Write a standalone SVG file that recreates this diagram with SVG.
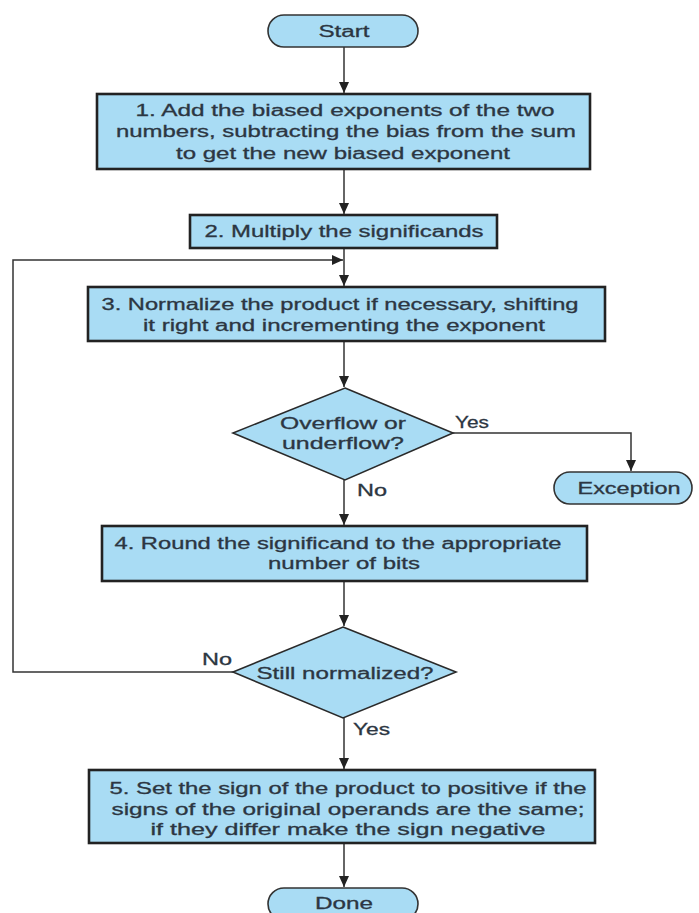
<svg xmlns="http://www.w3.org/2000/svg" width="699" height="913" viewBox="0 0 699 913">
<style>
.bg{fill:#ffffff}
.box{fill:#a9dcf4;stroke:#222;stroke-width:2.6}
.dec{fill:#a9dcf4;stroke:#2a2a2a;stroke-width:1.6}
.term{fill:#a9dcf4;stroke:#333;stroke-width:1.6}
.t{font-family:"Liberation Sans",Arial,sans-serif;font-size:16px;fill:#2c3642;stroke:#2c3642;stroke-width:0.3;text-anchor:middle}
.lbl{font-family:"Liberation Sans",Arial,sans-serif;font-size:16px;fill:#2c3642;stroke:#2c3642;stroke-width:0.3;text-anchor:start}
.c{fill:none;stroke:#333;stroke-width:1.5}
</style>
<defs>
<marker id="ah" markerUnits="userSpaceOnUse" markerWidth="12" markerHeight="10" refX="11" refY="5" orient="auto">
<path d="M0,0 L11,5 L0,10 Z" fill="#222"/>
</marker>
</defs>
<rect class="bg" x="0" y="0" width="699" height="913"/>
<g id="connectors">
<line class="c" x1="344" y1="47" x2="344" y2="93" marker-end="url(#ah)"/>
<line class="c" x1="344" y1="169" x2="344" y2="214" marker-end="url(#ah)"/>
<line class="c" x1="344" y1="248" x2="344" y2="286" marker-end="url(#ah)"/>
<polyline class="c" points="233,672 13,672 13,260 343,260" marker-end="url(#ah)"/>
<line class="c" x1="344" y1="341" x2="344" y2="387" marker-end="url(#ah)"/>
<polyline class="c" points="453,433 631,433 631,471" marker-end="url(#ah)"/>
<line class="c" x1="344" y1="480" x2="344" y2="525" marker-end="url(#ah)"/>
<line class="c" x1="344" y1="581" x2="344" y2="626" marker-end="url(#ah)"/>
<line class="c" x1="344" y1="718" x2="344" y2="769" marker-end="url(#ah)"/>
<line class="c" x1="344" y1="843" x2="344" y2="887" marker-end="url(#ah)"/>
<text class="lbl" x="455" y="427.5" textLength="34" lengthAdjust="spacingAndGlyphs">Yes</text>
<text class="lbl" x="357" y="495.5" textLength="30" lengthAdjust="spacingAndGlyphs">No</text>
<text class="lbl" x="202" y="664.5" textLength="30" lengthAdjust="spacingAndGlyphs">No</text>
<text class="lbl" x="353" y="734.5" textLength="37" lengthAdjust="spacingAndGlyphs">Yes</text>
</g>
<g id="start">
<rect class="term" x="268" y="15" width="150" height="32" rx="16"/>
<text class="t" x="344" y="36.5" textLength="51" lengthAdjust="spacingAndGlyphs">Start</text>
</g>
<g id="step1">
<rect class="box" x="97" y="94" width="493" height="75"/>
<text class="t" x="345" y="115.5" textLength="419" lengthAdjust="spacingAndGlyphs">1.  Add the biased exponents of the two</text>
<text class="t" x="346" y="137" textLength="460" lengthAdjust="spacingAndGlyphs">numbers, subtracting the bias from the sum</text>
<text class="t" x="343" y="158.5" textLength="334" lengthAdjust="spacingAndGlyphs">to get the new biased exponent</text>
</g>
<g id="step2">
<rect class="box" x="190" y="215" width="307" height="33"/>
<text class="t" x="344" y="237" textLength="279" lengthAdjust="spacingAndGlyphs">2. Multiply the significands</text>
</g>
<g id="step3">
<rect class="box" x="88" y="287" width="517" height="54"/>
<text class="t" x="340" y="309.5" textLength="477" lengthAdjust="spacingAndGlyphs">3. Normalize the product if necessary, shifting</text>
<text class="t" x="344" y="330.5" textLength="402" lengthAdjust="spacingAndGlyphs">it right and incrementing the exponent</text>
</g>
<g id="overflow">
<polygon class="dec" points="345,388 453,433 345,480 233,433"/>
<text class="t" x="343" y="428.5" textLength="126" lengthAdjust="spacingAndGlyphs">Overflow or</text>
<text class="t" x="343" y="448.5" textLength="122" lengthAdjust="spacingAndGlyphs">underflow?</text>
</g>
<g id="exception">
<rect class="term" x="554" y="472" width="138" height="32" rx="16"/>
<text class="t" x="629" y="493.5" textLength="103" lengthAdjust="spacingAndGlyphs">Exception</text>
</g>
<g id="step4">
<rect class="box" x="102" y="526" width="485" height="55"/>
<text class="t" x="338" y="548.5" textLength="447" lengthAdjust="spacingAndGlyphs">4. Round the significand to the appropriate</text>
<text class="t" x="344" y="568.5" textLength="152" lengthAdjust="spacingAndGlyphs">number of bits</text>
</g>
<g id="normalized">
<polygon class="dec" points="343,627 456,672 343,718 233,672"/>
<text class="t" x="345" y="678.5" textLength="177" lengthAdjust="spacingAndGlyphs">Still normalized?</text>
</g>
<g id="step5">
<rect class="box" x="89" y="770" width="506" height="73"/>
<text class="t" x="348" y="794" textLength="477" lengthAdjust="spacingAndGlyphs">5. Set the sign of the product to positive if the</text>
<text class="t" x="348" y="814.5" textLength="473" lengthAdjust="spacingAndGlyphs">signs of the original operands are the same;</text>
<text class="t" x="348" y="835" textLength="395" lengthAdjust="spacingAndGlyphs">if they differ make the sign negative</text>
</g>
<g id="done">
<rect class="term" x="268" y="888" width="150" height="32" rx="16"/>
<text class="t" x="344" y="909" textLength="58" lengthAdjust="spacingAndGlyphs">Done</text>
</g>
</svg>
